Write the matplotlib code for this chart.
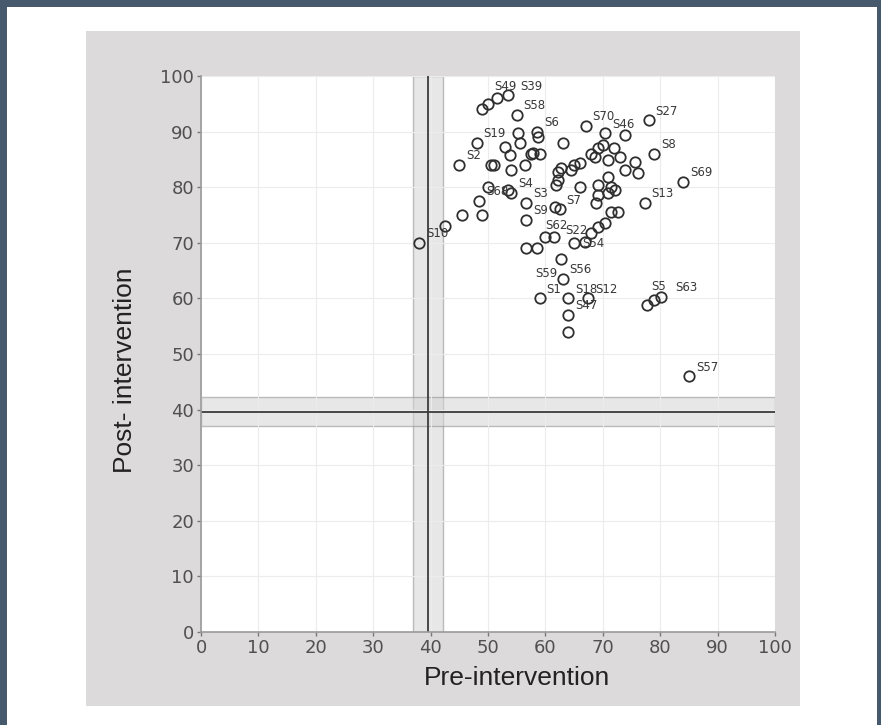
import matplotlib
matplotlib.use("Agg")
import matplotlib.pyplot as plt
from matplotlib.patches import Rectangle
from matplotlib.ticker import MultipleLocator

# subject scores
pre_scores = [38, 48.5, 48, 51.5, 53.5, 55, 58.5, 45, 54, 56.6, 62.5, 56.6, 77.3, 67,
              78, 79, 84, 70.4, 60, 61.5, 65, 62.7, 59, 63, 67.5, 64, 64, 80.2, 79, 85,
              42.5, 45.5, 49, 50, 51, 49, 50, 55.2, 58.7, 55.6, 53, 57.8, 59, 53.8,
              50.5, 54, 63, 53.5, 61.8, 65, 62.2, 57.5, 73.9, 69.2, 68.6, 66, 62.7, 64.5,
              62.2, 66, 69.2, 70.9, 71.4, 73.9, 75.6, 76.1, 73, 70.9, 69.2, 70.9, 72.1,
              68.8, 61.7, 71.4, 72.6, 68, 69.2, 70.4, 66.9, 56.6, 58.5, 77.7, 64, 70,
              72, 68, 56.5]
post_scores = [70, 77.5, 88, 96, 96.5, 93, 90, 84, 79, 77.2, 76, 74.1, 77.2, 91,
               92, 86, 81, 89.7, 71, 71, 70, 67, 60, 63.5, 60, 60, 57, 60.3, 59.7, 46,
               73, 75, 75, 80, 84, 94, 95, 89.7, 89, 88, 87.2, 86.2, 86, 85.8,
               84, 83, 88, 79.5, 80.4, 84, 82.7, 86, 89.4, 87, 85.5, 84.4, 83.5, 83,
               81.3, 80, 80.4, 81.8, 80, 83, 84.5, 82.5, 85.5, 84.9, 78.6, 79, 79.5,
               77.2, 76.5, 75.5, 75.5, 71.8, 72.9, 73.6, 70.1, 69, 69, 58.8, 54, 87.5,
               87, 86, 84]
point_labels = ["S10", "S68", "S19", "S49", "S39", "S58", "S6", "S2", "S4", "S3", "S7", "S9",
                "S13", "S70", "S27", "S8", "S69", "S46", "S62", "S22", "S54", "S56", "S1",
                "S59", "S12", "S18", "S47", "S63", "S5", "S57"]

pre_cut = 39.5
pre_band = (37, 42.2)
post_cut = 39.6
post_band = (37, 42.3)

# label nudges (in points) where labels crowd each other
nudge = {"S49": (-2, 6), "S39": (9, 4), "S62": (0, 6), "S22": (8, 2), "S5": (-2, 7), "S63": (10, 4),
         "S54": (6, -3), "S56": (6, -10), "S59": (-20, 1)}

fig = plt.figure(figsize=(8.81, 7.25), dpi=100)

# grey panel and the dark frame round the picture
fig.patches.append(Rectangle((0.0976, 0.0262), 0.8104, 0.931, transform=fig.transFigure,
                             facecolor="#dcdadb", edgecolor="none", zorder=-5))
border = "#47596d"
fig.patches.append(Rectangle((0, 1 - 7 / 725), 1, 7 / 725, transform=fig.transFigure,
                             facecolor=border, edgecolor="none", zorder=-5))
fig.patches.append(Rectangle((0, 0), 7 / 881, 1, transform=fig.transFigure,
                             facecolor=border, edgecolor="none", zorder=-5))
fig.patches.append(Rectangle((877 / 881, 0), 4 / 881, 1, transform=fig.transFigure,
                             facecolor=border, edgecolor="none", zorder=-5))

ax = fig.add_axes([0.2282, 0.1283, 0.6515, 0.767])
ax.set_zorder(5)
ax.set_facecolor("white")
ax.set_xlim(0, 100)
ax.set_ylim(0, 100)

ax.xaxis.set_major_locator(MultipleLocator(10))
ax.yaxis.set_major_locator(MultipleLocator(10))
ax.grid(True, color="#ececec", linewidth=0.8, zorder=0)

# cut-off lines with their bands
ax.axvspan(*pre_band, facecolor="#d4d4d4", alpha=0.55, edgecolor="#8c8c8c", linewidth=1, zorder=1)
ax.axhspan(*post_band, facecolor="#d4d4d4", alpha=0.55, edgecolor="#8c8c8c", linewidth=1, zorder=1)
ax.axvline(pre_cut, color="#3c3c3c", linewidth=1.3, zorder=2)
ax.axhline(post_cut, color="#3c3c3c", linewidth=1.3, zorder=2)

ax.plot(pre_scores, post_scores, linestyle="none", marker="o", markersize=7.5,
        markerfacecolor="none", markeredgecolor="#2f2f2f", markeredgewidth=1.3, zorder=3)

for i, lab in enumerate(point_labels):
    ax.annotate(lab, (pre_scores[i], post_scores[i]), xytext=nudge.get(lab, (5, 4)),
                textcoords="offset points", fontsize=8.5, color="#383838", zorder=4)

for side in ["top", "right"]:
    ax.spines[side].set_visible(False)
for side in ["left", "bottom"]:
    ax.spines[side].set_color("#9a9a9a")
    ax.spines[side].set_linewidth(1.2)

ax.tick_params(axis="both", direction="out", length=3, width=1, color="#777777",
               labelsize=13, labelcolor="#505050", pad=2)

ax.set_xlabel("Pre-intervention", family="Liberation Sans", fontsize=19, color="#222222")
ax.set_ylabel("Post- intervention", family="Liberation Sans", fontsize=19, color="#222222")
ax.xaxis.set_label_coords(0.55, -0.062)
ax.yaxis.set_label_coords(-0.111, 0.47)

fig.savefig("out.png", dpi=100, facecolor="white")
